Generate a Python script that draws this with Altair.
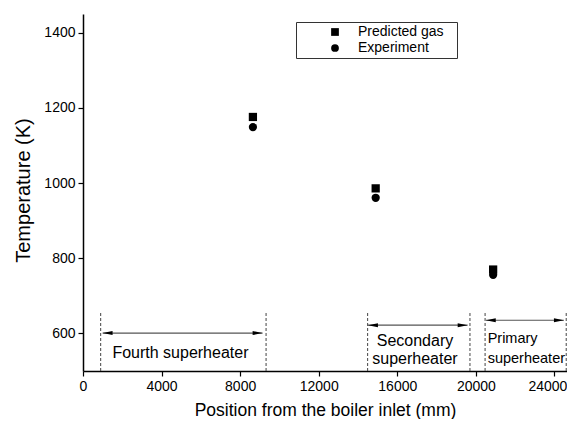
import altair as alt
import pandas as pd

# ---- data ----
positions = [8650, 14900, 20880]
predicted_gas = [1176, 986, 770]
experiment = [1149, 961, 756]
series_names = ["Predicted gas", "Experiment"]

# superheater section boundaries (mm) and annotation arrows
boundaries = [900, 9320, 14490, 19700, 20470, 24600]
boundary_top = [658, 658, 658, 658, 658, 658]
arrow_start = [1000, 14510, 20510]
arrow_end = [9140, 19580, 24480]
arrow_level = [601, 622, 635]
center_labels = ["Fourth superheater", "Secondary", "superheater"]
center_label_x = [4960, 16900, 16900]
center_label_y = [547, 579, 531]
left_labels = ["Primary", "superheater"]
left_label_x = [20600, 20600]
left_label_y = [584, 531]

x_ticks = [0, 4000, 8000, 12000, 16000, 20000, 24000]
y_ticks = [600, 800, 1000, 1200, 1400]
x_domain = [0, 24640]
y_domain = [500, 1450]

FONT = "Liberation Sans"

pts = pd.DataFrame({
    "x": positions * 2,
    "y": predicted_gas + experiment,
    "series": [series_names[0]] * 3 + [series_names[1]] * 3,
})
bnd = pd.DataFrame({"x": boundaries, "y": [y_domain[0]] * len(boundaries), "y2": boundary_top})
arr = pd.DataFrame({"x": arrow_start, "x2": arrow_end, "y": arrow_level})
lt = pd.DataFrame({"x": arrow_start, "y": arrow_level})
rt = pd.DataFrame({"x": arrow_end, "y": arrow_level})
ctext = pd.DataFrame({"t": center_labels, "x": center_label_x, "y": center_label_y})
ltext = pd.DataFrame({"t": left_labels, "x": left_label_x, "y": left_label_y})

xs = alt.Scale(domain=x_domain, nice=False, zero=False)
ys = alt.Scale(domain=y_domain, nice=False, zero=False)

x_axis = alt.Axis(values=x_ticks, title="Position from the boiler inlet (mm)",
                  titleX=242, titleY=39, titleBaseline="middle", titleAlign="center",
                  titleFontSize=17.5, labelFlush=False, format="d",
                  labelOffset={"condition": {"test": "datum.value >= 24000", "value": -7},
                               "value": 0})
y_axis = alt.Axis(values=y_ticks, title="Temperature (K)",
                  titleX=-60, titleY=176, titleAngle=-90, titleBaseline="middle",
                  titleAlign="center", titleFontSize=20, format="d")

points = alt.Chart(pts).mark_point(filled=True, opacity=1, color="black", size=68).encode(
    x=alt.X("x:Q", scale=xs, axis=x_axis),
    y=alt.Y("y:Q", scale=ys, axis=y_axis),
    shape=alt.Shape("series:N",
                    scale=alt.Scale(domain=series_names, range=["square", "circle"]),
                    legend=alt.Legend(title=None, orient="none", legendX=213, legendY=8,
                                      strokeColor="#333333", padding=3, symbolOffset=29,
                                      labelFontSize=14, labelFont=FONT, labelOffset=16,
                                      symbolSize=60, symbolFillColor="black",
                                      symbolStrokeColor="black", rowPadding=2,
                                      labelLimit=300,
                                      labelExpr="datum.label + '\u2800'")),
)

dashes = alt.Chart(bnd).mark_rule(color="#444444", strokeDash=[3, 2], strokeWidth=1).encode(
    x=alt.X("x:Q", scale=xs), y=alt.Y("y:Q", scale=ys), y2="y2:Q"
)
arrows = alt.Chart(arr).mark_rule(color="#555555", strokeWidth=1.2).encode(
    x=alt.X("x:Q", scale=xs), x2="x2:Q", y=alt.Y("y:Q", scale=ys)
)
heads_left = alt.Chart(lt).mark_point(
    shape="M0,0L2.2,-0.45L2.2,0.45Z", filled=True, color="black", opacity=1, size=81
).encode(x=alt.X("x:Q", scale=xs), y=alt.Y("y:Q", scale=ys))
heads_right = alt.Chart(rt).mark_point(
    shape="M0,0L-2.2,-0.45L-2.2,0.45Z", filled=True, color="black", opacity=1, size=81
).encode(x=alt.X("x:Q", scale=xs), y=alt.Y("y:Q", scale=ys))

ctxt = alt.Chart(ctext).mark_text(font=FONT, fontSize=16, align="center", baseline="middle",
                                  color="black").encode(
    x=alt.X("x:Q", scale=xs), y=alt.Y("y:Q", scale=ys), text="t:N")
ltxt = alt.Chart(ltext).mark_text(font=FONT, fontSize=14.5, align="left", baseline="middle",
                                  color="black").encode(
    x=alt.X("x:Q", scale=xs), y=alt.Y("y:Q", scale=ys), text="t:N")

chart = alt.layer(dashes, arrows, heads_left, heads_right, ctxt, ltxt, points).properties(
    width=484, height=357,
    autosize=alt.AutoSizeParams(type="none"),
    padding={"left": 75, "top": 6, "right": 0, "bottom": 48},
).configure_view(stroke=None).configure_axis(
    grid=False, domainColor="black", domainWidth=1.5, tickColor="black", tickWidth=1.2,
    tickSize=5, labelFont=FONT, labelFontSize=14, labelColor="black", labelPadding=3,
    titleFont=FONT, titleFontWeight="normal", titleColor="black",
)

chart.save("out.html", embed_options={"renderer": "svg", "actions": False})
